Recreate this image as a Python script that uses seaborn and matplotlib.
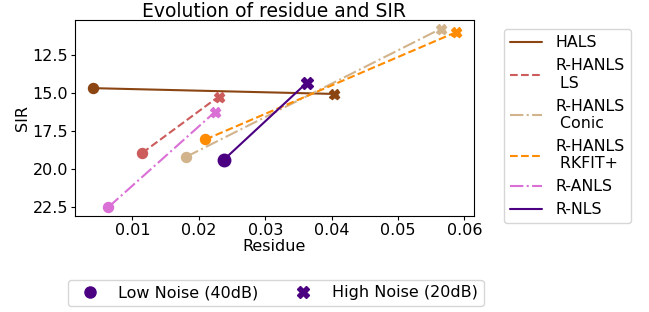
import matplotlib
matplotlib.use("Agg")
import matplotlib.pyplot as plt
from matplotlib.lines import Line2D
import seaborn as sns
import pandas as pd

sns.set_style("white")
plt.rcParams['font.family'] = ['DejaVu Sans']
plt.rcParams.update({'text.color': 'black', 'axes.labelcolor': 'black',
                     'xtick.color': 'black', 'ytick.color': 'black'})

# one line per method: low noise (40dB) point, then high noise (20dB) point
methods = ["HALS", "R-HANLS\n LS", "R-HANLS\n Conic", "R-HANLS\n RKFIT+", "R-ANLS", "R-NLS"]
residue_low = [0.0041, 0.0115, 0.0181, 0.0210, 0.0064, 0.0238]
residue_high = [0.0404, 0.0230, 0.0564, 0.0587, 0.0225, 0.0363]
sir_low = [14.67, 18.92, 19.18, 18.04, 22.48, 19.36]
sir_high = [15.05, 15.22, 10.78, 11.00, 16.21, 14.30]
noise_labels = ["Low Noise (40dB)", "High Noise (20dB)"]

colors = ["saddlebrown", "indianred", "tan", "darkorange", "orchid", "indigo"]
styles = ["-", "--", "-.", "--", "-.", "-"]
msizes = [7.2, 7.2, 7.2, 7.2, 7.2, 9]

fig = plt.figure(figsize=(6.49, 3.12), dpi=100)
ax = fig.add_axes([0.1156, 0.3077, 0.6147, 0.6282])

for i, m in enumerate(methods):
    df = pd.DataFrame({"Residue": [residue_low[i], residue_high[i]],
                       "SIR": [sir_low[i], sir_high[i]],
                       "noise": noise_labels})
    sns.lineplot(data=df, x="Residue", y="SIR", color=colors[i], linestyle=styles[i],
                 linewidth=1.5, ax=ax, legend=False, sort=False)
    ax.plot(df["Residue"][:1], df["SIR"][:1], "o", color=colors[i], ms=msizes[i])
    ax.plot(df["Residue"][1:], df["SIR"][1:], "X", color=colors[i], ms=msizes[i])

ax.invert_yaxis()
ax.set_yticks([12.5, 15.0, 17.5, 20.0, 22.5])
ax.set_xticks([0.01, 0.02, 0.03, 0.04, 0.05, 0.06])
ax.tick_params(labelsize=11.5, length=3, width=0.8, pad=2, left=True, bottom=True)
ax.set_xlabel("Residue", fontsize=11.5, labelpad=1)
ax.set_ylabel("SIR", fontsize=11.5, labelpad=2)
ax.set_title("Evolution of residue and SIR", fontsize=13.5, pad=2)
for s in ax.spines.values():
    s.set_color("black")
    s.set_linewidth(0.8)

method_handles = [Line2D([0], [0], color=c, linestyle=ls, linewidth=1.5)
                  for c, ls in zip(colors, styles)]
fig.legend(method_handles, methods, loc="upper left", bbox_to_anchor=(0.7766, 0.907),
           fontsize=11.4, frameon=True, handlelength=2.0, labelspacing=0.5,
           handletextpad=0.85, borderpad=0.4, borderaxespad=0)

noise_handles = [Line2D([0], [0], marker="o", color="indigo", linestyle="none", ms=8),
                 Line2D([0], [0], marker="X", color="indigo", linestyle="none", ms=8)]
fig.legend(noise_handles, noise_labels, loc="lower left", bbox_to_anchor=(0.105, 0.019),
           ncol=2, fontsize=11.5, frameon=True, columnspacing=1.8, handletextpad=0.8,
           borderpad=0.35, borderaxespad=0)

fig.savefig("out.png", dpi=100)
